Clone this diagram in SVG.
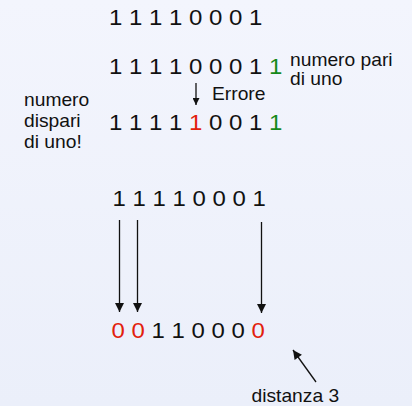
<svg xmlns="http://www.w3.org/2000/svg" width="412" height="406" viewBox="0 0 412 406">
  <defs>
    <linearGradient id="bg" x1="0" y1="0" x2="0" y2="1">
      <stop offset="0" stop-color="#f3f5fd"/>
      <stop offset="1" stop-color="#ebeffa"/>
    </linearGradient>
    <marker id="head" viewBox="0 0 10 10" refX="10" refY="5" markerWidth="8" markerHeight="7" markerUnits="userSpaceOnUse" orient="auto">
      <path d="M0,0 L10,5 L0,10 Z" fill="#111"/>
    </marker>
    <marker id="headBig" viewBox="0 0 10 10" refX="10" refY="5" markerWidth="10" markerHeight="9" markerUnits="userSpaceOnUse" orient="auto">
      <path d="M0,0 L10,5 L0,10 Z" fill="#111"/>
    </marker>
  </defs>
  <style>
    text { font-family: "Liberation Sans", Arial, sans-serif; fill: #111; }
    .bits { font-size: 22px; }
    .lbl { font-size: 17.5px; }
    .red { fill: #e2200c; }
    .green { fill: #15891a; }
    .conn line { stroke: #111; stroke-width: 1.3; fill: none; }
  </style>

  <rect width="412" height="406" fill="url(#bg)"/>

  <!-- original word -->
  <g id="word">
    <text class="bits" transform="matrix(1.09 0 0 1 109 25)" xml:space="preserve">1 1 1 1 0 0 0 1</text>
  </g>

  <!-- word with parity bit -->
  <g id="word-parity">
    <text class="bits" transform="matrix(1.09 0 0 1 109 74)" xml:space="preserve">1 1 1 1 0 0 0 1 <tspan class="green">1</tspan></text>
  </g>
  <g id="label-even">
    <text class="lbl" transform="matrix(1.1 0 0 1 290 66)">numero pari</text>
    <text class="lbl" transform="matrix(1.1 0 0 1 290 85)">di uno</text>
  </g>

  <g id="label-error">
    <text class="lbl" transform="matrix(1.1 0 0 1 212 100)">Errore</text>
  </g>

  <!-- received word with one flipped bit -->
  <g id="word-error">
    <text class="bits" transform="matrix(1.09 0 0 1 109 130)" xml:space="preserve">1 1 1 1 <tspan class="red">1</tspan> 0 0 1 <tspan class="green">1</tspan></text>
  </g>
  <g id="label-odd">
    <text class="lbl" transform="matrix(1.1 0 0 1 24 106)">numero</text>
    <text class="lbl" transform="matrix(1.1 0 0 1 24 127)">dispari</text>
    <text class="lbl" transform="matrix(1.1 0 0 1 24 148)">di uno!</text>
  </g>

  <!-- Hamming distance example -->
  <g id="word-a">
    <text class="bits" transform="matrix(1.09 0 0 1 112.5 206)" xml:space="preserve">1 1 1 1 0 0 0 1</text>
  </g>
  <g id="word-b">
    <text class="bits" transform="matrix(1.09 0 0 1 111.5 338)" xml:space="preserve"><tspan class="red">0</tspan> <tspan class="red">0</tspan> 1 1 0 0 0 <tspan class="red">0</tspan></text>
  </g>
  <g id="label-distance">
    <text class="lbl" transform="matrix(1.1 0 0 1 251.5 402)">distanza 3</text>
  </g>

  <g id="connectors" class="conn">
    <line x1="196" y1="83" x2="196" y2="105" marker-end="url(#head)"/>
    <line x1="119.5" y1="220" x2="119.5" y2="312" marker-end="url(#headBig)"/>
    <line x1="137.5" y1="220" x2="137.5" y2="312" marker-end="url(#headBig)"/>
    <line x1="261.5" y1="222" x2="261.5" y2="313" marker-end="url(#headBig)"/>
    <line x1="316" y1="382" x2="293" y2="350" marker-end="url(#headBig)"/>
  </g>
</svg>
